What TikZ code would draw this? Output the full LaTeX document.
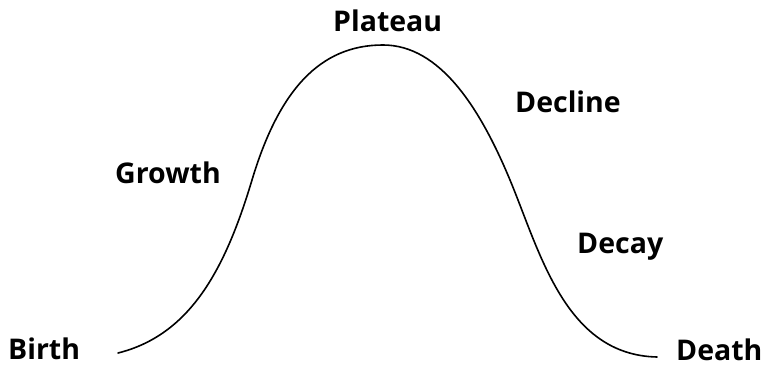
\documentclass[tikz,border=0pt]{standalone}
\usepackage{fontspec}
\setmainfont{Open Sans}
\begin{document}
\begin{tikzpicture}[x=1pt, y=-1pt,
    stage/.style={anchor=base west, inner sep=0pt, font=\fontsize{28.5}{30}\selectfont\bfseries}]
  \useasboundingbox (0,0) rectangle (767,366);
  % life cycle curve
  \coordinate (start) at (118,353);
  \coordinate (rise)  at (252,180);
  \coordinate (top)   at (383,45);
  \coordinate (fall)  at (510,180);
  \coordinate (end)   at (657,357);
  \draw[line width=1.6pt, line cap=round]
    (start) .. controls (190,335) and (225,270) .. (rise)
            .. controls (279,90)  and (320,45)  .. (top)
            .. controls (440,45)  and (480,108) .. (fall)
            .. controls (540,252) and (565,355) .. (end);
  % stage labels
  \node[stage] (birth)   at (8,359)   {Birth};
  \node[stage] (growth)  at (115,183) {Growth};
  \node[stage] (plateau) at (333,32)  {Plateau};
  \node[stage] (decline) at (515,113) {Decline};
  \node[stage] (decay)   at (577,253) {Decay};
  \node[stage] (death)   at (676,360) {Death};
\end{tikzpicture}
\end{document}
